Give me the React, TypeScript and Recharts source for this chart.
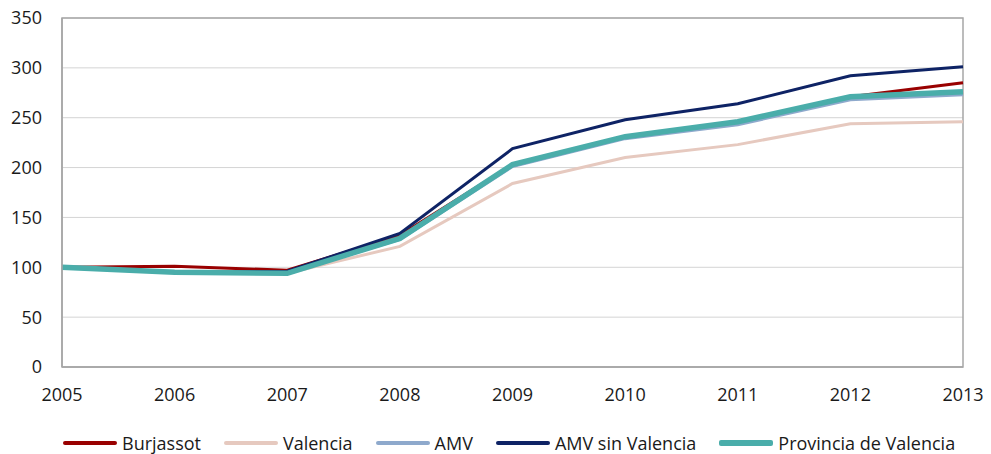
import React from 'react';
import { LineChart, Line, XAxis, YAxis, CartesianGrid, ReferenceArea } from 'recharts';

const years = ['2005', '2006', '2007', '2008', '2009', '2010', '2011', '2012', '2013'];
const burjassot = [100, 101, 97, 132, 203, 231, 245, 271, 285];
const valencia = [100, 95, 94, 121, 184, 210, 223, 244, 246];
const amv = [100, 95, 94, 128, 201, 229, 243, 268, 273];
const amvSinValencia = [100, 95, 96, 134, 219, 248, 264, 292, 301];
const provincia = [100, 95, 94, 129, 203, 231, 246, 271, 276];
const yTicks = [0, 50, 100, 150, 200, 250, 300, 350];

const series = [
  { key: 'burjassot', name: 'Burjassot', color: '#990000', width: 3 },
  { key: 'valencia', name: 'Valencia', color: '#E6C9BF', width: 3 },
  { key: 'amv', name: 'AMV', color: '#8EA9CC', width: 3 },
  { key: 'amvSinValencia', name: 'AMV sin Valencia', color: '#0E2365', width: 3 },
  { key: 'provincia', name: 'Provincia de Valencia', color: '#4AADAA', width: 5.5 },
];

const data = years.map((year, i) => ({
  year,
  burjassot: burjassot[i],
  valencia: valencia[i],
  amv: amv[i],
  amvSinValencia: amvSinValencia[i],
  provincia: provincia[i],
}));

const font = '"Open Sans", sans-serif';
const tickStyle = { fontSize: 18, fill: '#1a1a1a', fontFamily: font };

export default function App() {
  return (
    <div style={{ position: 'absolute', left: 0, top: 0, width: 991, height: 454, background: '#fff', fontFamily: font }}>
      <LineChart width={991} height={454} data={data} margin={{ top: 18, right: 28, left: 0, bottom: 57 }}>
        <CartesianGrid vertical={false} stroke="#D4D4D4" />
        <ReferenceArea y1={0} y2={350} stroke="#A6A6A6" strokeWidth={1.5} fill="none" fillOpacity={0} />
        <XAxis
          dataKey="year"
          height={30}
          tickLine={false}
          tickSize={0}
          tickMargin={21}
          axisLine={{ stroke: '#A6A6A6', strokeWidth: 1.5 }}
          tick={tickStyle}
          interval={0}
        />
        <YAxis
          width={62}
          domain={[0, 350]}
          ticks={yTicks}
          tickLine={false}
          tickSize={0}
          tickMargin={20}
          axisLine={{ stroke: '#A6A6A6', strokeWidth: 1.5 }}
          tick={tickStyle}
        />
        {series.map((s) => (
          <Line
            key={s.key}
            type="linear"
            dataKey={s.key}
            name={s.name}
            stroke={s.color}
            strokeWidth={s.width}
            dot={false}
            activeDot={false}
            isAnimationActive={false}
          />
        ))}
      </LineChart>
      <div
        style={{
          position: 'absolute',
          left: 63,
          top: 431,
          display: 'flex',
          alignItems: 'center',
          gap: 23,
          fontSize: 18,
          color: '#1a1a1a',
          whiteSpace: 'nowrap',
        }}
      >
        {series.map((s) => (
          <div key={s.key} style={{ display: 'flex', alignItems: 'center' }}>
            <div style={{ width: 54, height: s.width > 4 ? 6 : 4, background: s.color, borderRadius: 2, marginRight: 5 }} />
            <span>{s.name}</span>
          </div>
        ))}
      </div>
    </div>
  );
}
